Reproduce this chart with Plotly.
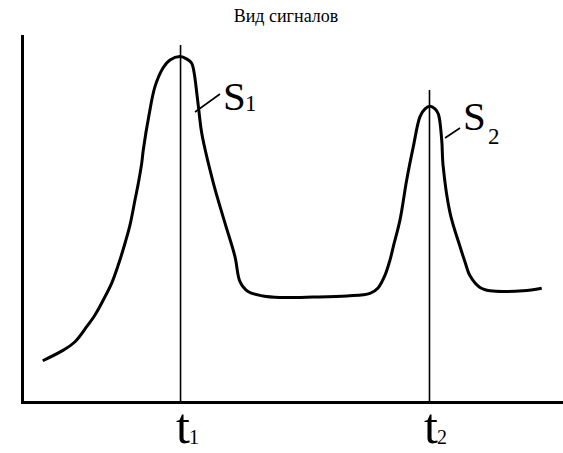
import plotly.graph_objects as go

# Signal trace: time (arbitrary units, 0-100) and amplitude (arbitrary units, 0-100)
time = [3.47, 7.29, 9.46, 11.63, 13.17, 14.71, 16.27, 17.50, 18.74, 19.67, 20.59,
        21.21, 21.84, 22.13, 23.19, 24.30, 25.79, 27.09, 28.94, 30.24, 31.11, 31.54,
        32.10, 32.47, 32.97, 35.12, 37.29, 39.15, 40.07, 41.56, 44.34, 47.50, 53.62,
        59.93, 64.19, 65.68, 66.98, 67.90, 68.52, 69.76, 71.00, 72.23, 73.47, 74.40,
        75.32, 76.25, 76.87, 77.50, 77.74, 79.04, 80.89, 81.82, 82.75, 84.60, 86.46,
        92.58, 96.05]
signal = [11.0, 13.9, 16.2, 20.3, 23.5, 27.6, 32.2, 37.2, 43.1, 48.1, 54.9,
          59.5, 65.0, 68.6, 78.1, 85.9, 91.0, 93.2, 94.1, 93.4, 92.3, 89.9,
          83.6, 79.0, 73.2, 59.6, 48.6, 39.4, 32.6, 29.9, 28.7, 28.3, 28.4,
          28.7, 29.4, 30.9, 34.4, 38.5, 42.2, 49.5, 60.4, 69.5, 77.7, 79.8,
          80.5, 79.8, 78.4, 71.3, 64.5, 51.4, 42.2, 38.0, 34.2, 31.0, 30.1,
          30.1, 30.8]

# Peak instants and heights of the marker lines above them
peak_times = [29.04, 75.23]
marker_tops = [97.3, 85.0]

# Time labels under the axis: letter and subscript (x in data, y as plot fraction)
time_letters = ["t", "t"]
time_subs = ["1", "2"]
time_letter_xy = [(29.41, -0.067), (75.57, -0.067)]
time_sub_xy = [(31.48, -0.097), (77.62, -0.097)]

# Peak labels: letter and subscript (data coordinates)
peak_letters = ["S", "S"]
peak_subs = ["1", "2"]
peak_letter_xy = [(39.05, 83.2), (83.67, 77.9)]
peak_sub_xy = [(42.20, 81.4), (87.11, 72.4)]

# leader lines from the curve to the peak labels
leader_x = [[31.73, 36.36], [78.11, 80.89]]
leader_y = [[78.96, 83.88], [71.86, 74.59]]

SERIF = "Liberation Serif, Times New Roman, Times, serif"

fig = go.Figure()

# vertical marker lines at the peak instants
for t, top in zip(peak_times, marker_tops):
    fig.add_trace(go.Scatter(x=[t, t], y=[0, top], mode="lines",
                             line=dict(color="black", width=1.6),
                             hoverinfo="skip", showlegend=False))

# the signal curve
fig.add_trace(go.Scatter(x=time, y=signal, mode="lines",
                         line=dict(color="black", width=3, shape="spline", smoothing=1.0),
                         showlegend=False))

# leader lines
for lx, ly in zip(leader_x, leader_y):
    fig.add_trace(go.Scatter(x=lx, y=ly, mode="lines",
                             line=dict(color="black", width=1.6),
                             hoverinfo="skip", showlegend=False))


def add_label(text, xy, size, yref="y"):
    fig.add_annotation(x=xy[0], y=xy[1], xref="x", yref=yref, text=text,
                       showarrow=False, xanchor="center", yanchor="middle",
                       font=dict(family=SERIF, size=size, color="black"))


for letter, sub, lxy, sxy in zip(peak_letters, peak_subs, peak_letter_xy, peak_sub_xy):
    add_label(letter, lxy, 41)
    add_label(sub, sxy, 23)

for letter, sub, lxy, sxy in zip(time_letters, time_subs, time_letter_xy, time_sub_xy):
    add_label(letter, lxy, 50, yref="paper")
    add_label(sub, sxy, 20, yref="paper")

fig.update_layout(
    width=563, height=453,
    margin=dict(l=24, r=0, t=35, b=52, autoexpand=False),
    paper_bgcolor="white", plot_bgcolor="white",
    font=dict(family=SERIF, color="black"),
    title=dict(text="Вид сигналов", x=0.508, xanchor="center",
               y=0.965, yanchor="middle", yref="container",
               font=dict(family=SERIF, size=18, color="black")),
    xaxis=dict(range=[0, 100], showgrid=False, zeroline=False, automargin=False,
               showline=True, linecolor="black", linewidth=3,
               showticklabels=False, ticks=""),
    yaxis=dict(range=[0, 100], showgrid=False, zeroline=False, automargin=False,
               showline=True, linecolor="black", linewidth=3,
               showticklabels=False, ticks=""),
)

fig.write_html("out.html")
